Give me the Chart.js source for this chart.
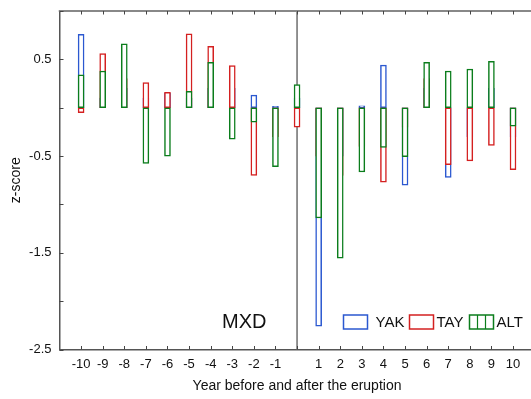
<!DOCTYPE html>
<html><head><meta charset="utf-8">
<script src="https://cdn.jsdelivr.net/npm/chart.js@4/dist/chart.umd.min.js"></script>
<style>
html,body{margin:0;padding:0;overflow:hidden;background:#fff;width:531px;height:399px}
#wrap{width:536px;height:399px}
</style></head><body>
<div id="wrap"><canvas id="c" width="536" height="399"></canvas></div>
<script>
// ---- data ----
const years = [-10,-9,-8,-7,-6,-5,-4,-3,-2,-1,0,1,2,3,4,5,6,7,8,9,10];
const yak = [0.76,0.10,0.20,0.10,0.15,0.10,0.20,0.20,0.13,0.015,0.10,-2.26,-0.50,0.02,0.44,-0.80,0.20,-0.72,-0.30,0.20,-0.30];
const tay = [-0.05,0.56,0.30,0.26,0.16,0.765,0.635,0.435,-0.70,-0.30,-0.20,-0.50,-0.70,-0.40,-0.77,-0.20,0.30,-0.59,-0.55,-0.39,-0.64];
const alt = [0.34,0.38,0.66,-0.575,-0.50,0.17,0.47,-0.325,-0.15,-0.61,0.24,-1.14,-1.555,-0.665,-0.41,-0.505,0.47,0.38,0.40,0.48,-0.19];
const seriesNames = ['YAK','TAY','ALT'];
const yTickLabels = [0.5,-0.5,-1.5,-2.5];
const xTitle = 'Year before and after the eruption';
const yTitle = 'z-score';
const annotationText = 'MXD';

// ---- styles ----
const FONT = "'Liberation Sans', Arial, sans-serif";
const colors = ['#2b58d0','#d42020','#0b7d1c'];
Chart.defaults.font.family = FONT;
Chart.defaults.color = '#111';

function makeDs(label, arr, color, order){
  return {label, data: years.map((x,i)=>({x, y: arr[i]})),
    backgroundColor:'#ffffff', borderColor:color, borderWidth:1.5,
    borderSkipped:false, barThickness:6, grouped:false, order};
}

const decor = {
  id:'decor',
  beforeDatasetsDraw(chart){
    const {ctx, chartArea:a, scales:{x}} = chart;
    const px = x.getPixelForValue(0);
    ctx.save();
    ctx.strokeStyle = '#6e6e6e'; ctx.lineWidth = 1.5;
    ctx.beginPath(); ctx.moveTo(px, a.top); ctx.lineTo(px, a.bottom); ctx.stroke();
    ctx.restore();
  },
  afterDraw(chart){
    const {ctx, chartArea:a, scales:{x,y}} = chart;
    ctx.save();
    // top frame line
    ctx.strokeStyle = '#888'; ctx.lineWidth = 2;
    ctx.beginPath(); ctx.moveTo(a.left-0.75, a.top); ctx.lineTo(chart.width, a.top); ctx.stroke();
    // inward ticks
    ctx.strokeStyle = '#444'; ctx.lineWidth = 1;
    x.ticks.forEach((t)=>{
      const p = Math.round(x.getPixelForValue(t.value))+0.5;
      ctx.beginPath(); ctx.moveTo(p, a.bottom); ctx.lineTo(p, a.bottom-3.5); ctx.stroke();
      ctx.beginPath(); ctx.moveTo(p, a.top); ctx.lineTo(p, a.top+3.5); ctx.stroke();
    });
    y.ticks.forEach((t)=>{
      const p = Math.round(y.getPixelForValue(t.value))+0.5;
      ctx.beginPath(); ctx.moveTo(a.left, p); ctx.lineTo(a.left+4, p); ctx.stroke();
    });
    // annotation
    ctx.fillStyle = '#111';
    ctx.font = '20px ' + FONT;
    ctx.textBaseline = 'middle'; ctx.textAlign = 'left';
    ctx.fillText(annotationText, 222, 322);
    // legend
    const items = chart.data.datasets.map(d=>({label:d.label, color:d.borderColor}));
    const xs = [343.5, 409.5, 469.5];
    ctx.font = '15px ' + FONT;
    items.forEach((it,i)=>{
      const bx = xs[i], by = 315, bw = 24, bh = 14;
      ctx.fillStyle = '#fff';
      ctx.fillRect(bx, by, bw, bh);
      ctx.strokeStyle = it.color; ctx.lineWidth = 1.5;
      ctx.strokeRect(bx, by, bw, bh);
      if (i === 2){
        ctx.lineWidth = 1.2;
        [8,16].forEach(o=>{ ctx.beginPath(); ctx.moveTo(bx+o, by); ctx.lineTo(bx+o, by+bh); ctx.stroke(); });
      }
      ctx.fillStyle = '#111';
      ctx.fillText(it.label, bx + bw + (i===0?8:3), by + bh/2 + 0.5);
    });
    ctx.restore();
  }
};

new Chart(document.getElementById('c'), {
  type:'bar',
  data:{ datasets:[
    makeDs(seriesNames[0], yak, colors[0], 2),
    makeDs(seriesNames[1], tay, colors[1], 1),
    makeDs(seriesNames[2], alt, colors[2], 0)
  ]},
  options:{
    responsive:false, animation:false, devicePixelRatio:1,
    layout:{padding:{top:11, right:1.4, left:0, bottom:0}},
    plugins:{legend:{display:false}, tooltip:{enabled:false}},
    scales:{
      x:{
        type:'linear', min:-11, max:11, offset:false,
        grid:{display:false, drawTicks:false},
        border:{display:true, color:'#555', width:1.5},
        afterBuildTicks(s){ s.ticks = years.map(v=>({value:v})); },
        afterFit(s){ s.height = 49.5; s.paddingLeft = 0; s.paddingRight = 0; },
        ticks:{ autoSkip:false, maxRotation:0, padding:7, font:{size:13}, color:'#111',
          callback:(v)=> v===0 ? '' : String(v) },
        title:{display:true, text:xTitle, font:{size:14}, color:'#111', padding:{top:4,bottom:4}}
      },
      y:{
        min:-2.5, max:1.0,
        grid:{display:false, drawTicks:false},
        border:{display:true, color:'#555', width:1.5},
        afterFit(s){ s.width = 59.5; s.paddingTop = 0; s.paddingBottom = 0; },
        ticks:{ stepSize:0.5, padding:8, font:{size:13}, color:'#111',
          callback:(v)=> yTickLabels.includes(v) ? String(v) : '' },
        title:{display:true, text:yTitle, font:{size:14}, color:'#111', padding:{top:8,bottom:0}}
      }
    }
  },
  plugins:[decor]
});
</script>
</body></html>
